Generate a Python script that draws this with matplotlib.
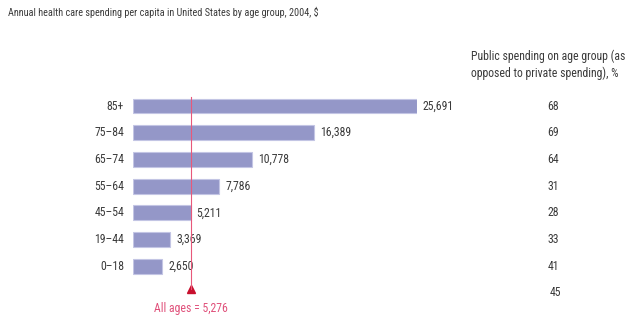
import matplotlib
matplotlib.use("Agg")
import matplotlib.pyplot as plt
import matplotlib.transforms as mtransforms
from matplotlib import font_manager

# data
age_groups = ["85+", "75\u201384", "65\u201374", "55\u201364", "45\u201354", "19\u201344", "0\u201318"]
spending = [25691, 16389, 10778, 7786, 5211, 3369, 2650]
public_share = [68, 69, 64, 31, 28, 33, 41]
all_ages_spending = 5276
all_ages_public = 45

names = {f.name for f in font_manager.fontManager.ttflist}
fam = "Roboto Condensed" if "Roboto Condensed" in names else "DejaVu Sans"
plt.rcParams["font.family"] = [fam, "DejaVu Sans"]
fsz = 8.5

W, H = 640, 329
fig = plt.figure(figsize=(W / 100, H / 100), dpi=100)

# axes placed so x=0 sits at px 133 and the largest bar ends at px 417
x0_px, x1_px = 133, 417
row0_px, step_px = 106, 26.7
top_px = row0_px - 0.5 * step_px
bot_px = row0_px + 8 * step_px
ax = fig.add_axes([x0_px / W, 1 - bot_px / H, (x1_px - x0_px) / W, (bot_px - top_px) / H])
ax.set_xlim(0, spending[0])
ax.set_ylim(8, -0.5)
ax.axis("off")

txt = "#3a3a3a"
rows = list(range(len(age_groups)))
ax.barh(rows, spending, height=0.56, color="#9497c8", edgecolor="#c3c5e4", linewidth=0.8)

px = spending[0] / (x1_px - x0_px)
for r, lab, v in zip(rows, age_groups, spending):
    ax.text(-9 * px, r, lab, ha="right", va="center", fontsize=fsz, color=txt)
    ax.text(v + 6 * px, r, f"{v:,}", ha="left", va="center", fontsize=fsz, color=txt, clip_on=False)

# all-ages marker
ax.plot([all_ages_spending, all_ages_spending], [-0.33, 6.85], color="#e8587a", lw=0.8,
        clip_on=False, zorder=3)
ax.plot([all_ages_spending], [6.85], marker="^", ms=6, color="#c8102e", clip_on=False)
ax.text(all_ages_spending, 7.6, f"All ages = {all_ages_spending:,}", ha="center", va="center",
        fontsize=fsz, color="#e0507a", clip_on=False)

# right column of public share
tr = mtransforms.blended_transform_factory(fig.transFigure, ax.transData)
for r, p in zip(rows, public_share):
    ax.text(553 / W, r, str(p), transform=tr, ha="center", va="center", fontsize=fsz, color=txt)
ax.text(555 / W, 7, str(all_ages_public), transform=tr, ha="center", va="center", fontsize=fsz, color=txt)

fig.text(8 / W, 1 - 12 / H, "Annual health care spending per capita in United States by age group, 2004, $",
         ha="left", va="center", fontsize=7.3, color=txt)
fig.text(471 / W, 1 - 65 / H, "Public spending on age group (as\nopposed to private spending), %",
         ha="left", va="center", fontsize=fsz, color=txt, linespacing=1.35)

fig.savefig("out.png", dpi=100)
